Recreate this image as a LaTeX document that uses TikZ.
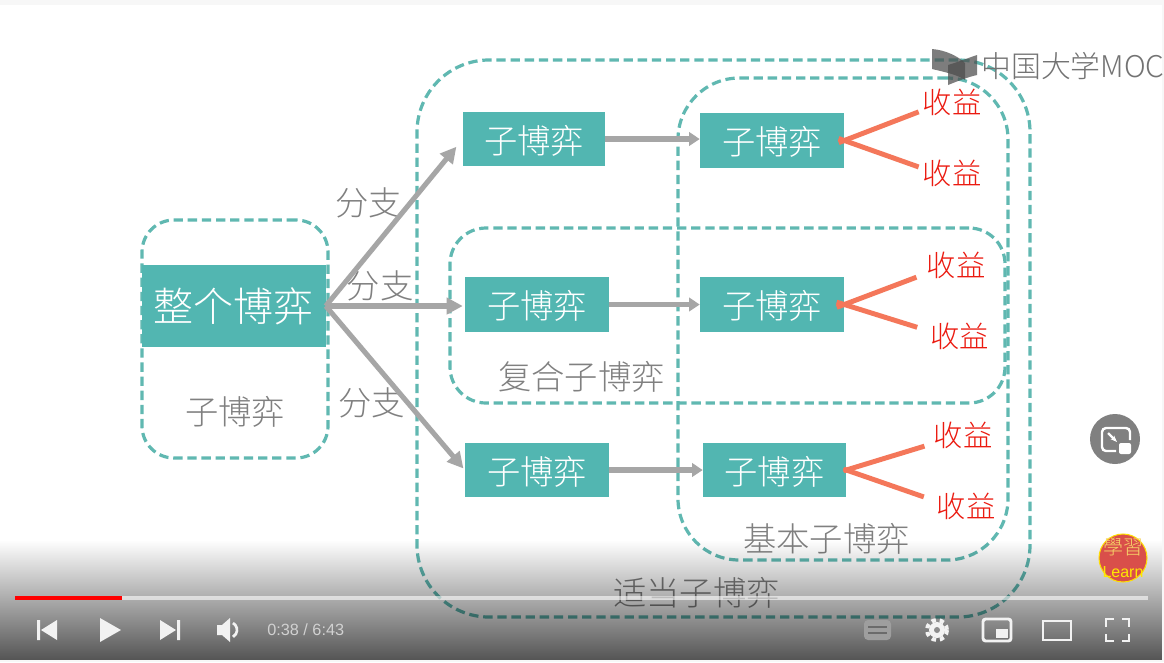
\documentclass[tikz,border=0pt]{standalone}
\usepackage{fontspec}
\setmainfont{Noto Sans CJK SC}[UprightFont=* Light]
\newfontfamily\tcfont{Noto Sans CJK TC}[UprightFont=* Light]
\newfontfamily\uifont{Liberation Sans}
\usetikzlibrary{arrows.meta,fadings,calc}
\tikzfading[name=ytfade,top color=transparent!100,middle color=transparent!78,bottom color=transparent!33]
\definecolor{tealbox}{HTML}{52B6B1}
\definecolor{tealdash}{HTML}{60B8B1}
\definecolor{greytxt}{HTML}{808080}
\definecolor{greyarrow}{HTML}{A6A6A6}
\definecolor{orangeline}{HTML}{F4775A}
\definecolor{redtxt}{HTML}{EB1A10}
\definecolor{uiwhite}{HTML}{F2F2F2}
\definecolor{badgered}{HTML}{D94F4A}
\definecolor{badgegold}{HTML}{F6D468}
\tikzset{
  gamebox/.style={fill=tealbox,text=white,inner sep=0pt,font=\fontsize{25}{25}\selectfont,text height=24pt,text depth=3pt,minimum height=41pt},
  region/.style={draw=tealdash,line width=2.4pt,dash pattern=on 7pt off 3.6pt,inner sep=0pt},
  greylabel/.style={text=greytxt,inner sep=0pt,font=\fontsize{25}{25}\selectfont},
  payoff/.style={text=redtxt,inner sep=0pt,font=\fontsize{22}{22}\selectfont},
  branch/.style={draw=greyarrow,line width=3.8pt,-{Triangle[width=12pt,length=12pt]},shorten >=1.5pt},
  flow/.style={draw=greyarrow,line width=4pt,-{Triangle[width=10pt,length=8pt]}},
  tie/.style={draw=orangeline,line width=3.7pt,shorten <=-4.5pt,shorten >=3pt},
  uiicon/.style={fill=uiwhite,draw=none},
  uiline/.style={draw=uiwhite,line width=2.2pt},
}
\begin{document}
\begin{tikzpicture}[x=0.75pt,y=-0.75pt]
\useasboundingbox (0,0) rectangle (1164,662);
\fill[white] (0,0) rectangle (1164,662);
\fill[black!3] (0,0) rectangle (1164,5);
\fill[black!3] (1162,0) rectangle (1164,662);
% regions
\node[region,minimum width=139.5pt,minimum height=178.5pt,rounded corners=24pt] (rsub) at (235,339) {};
\node[region,minimum width=459.75pt,minimum height=417.75pt,rounded corners=54pt] (rproper) at (723.5,338.5) {};
\node[region,minimum width=247.5pt,minimum height=361.5pt,rounded corners=46pt] (rbasic) at (843,319) {};
\node[region,minimum width=416.25pt,minimum height=131.25pt,rounded corners=27pt] (rcomp) at (727.5,315.5) {};
% boxes
\node[gamebox,minimum width=138pt,minimum height=61.5pt,font=\fontsize{30}{30}\selectfont,text height=27pt,text depth=3.6pt] (whole) at (233.5,306) {整个博弈};
\node[gamebox,minimum width=106.5pt] (b11) at (534,139) {子博弈};
\node[gamebox,minimum width=108pt] (b12) at (772,140.5) {子博弈};
\node[gamebox,minimum width=108pt] (b21) at (537,304.5) {子博弈};
\node[gamebox,minimum width=108pt] (b22) at (772,304.5) {子博弈};
\node[gamebox,minimum width=108pt] (b31) at (537,470) {子博弈};
\node[gamebox,minimum width=107.25pt] (b32) at (774.5,470) {子博弈};
% labels
\node[greylabel] (lsub) at (235,412) {子博弈};
\node[greylabel] (lcomp) at (581.5,376.5) {复合子博弈};
\node[greylabel] (lbasic) at (826.5,539) {基本子博弈};
\node[greylabel] (lproper) at (696.5,593) {适当子博弈};
\node[greylabel] (lb1) at (368.5,203) {分支};
\node[greylabel] (lb2) at (380,286) {分支};
\node[greylabel] (lb3) at (371.5,403) {分支};
% payoffs
\node[payoff] (p11) at (952,102.5) {收益};
\node[payoff] (p12) at (952,173.5) {收益};
\node[payoff] (p21) at (956,265.5) {收益};
\node[payoff] (p22) at (959.5,336.5) {收益};
\node[payoff] (p31) at (963,435.5) {收益};
\node[payoff] (p32) at (966,506.5) {收益};
% connectors
\draw[branch,shorten >=7.5pt] (whole.east) -- (b11.west);
\draw[branch] (whole.east) -- (whole.east -| b21.west);
\draw[branch] (whole.east) -- (b31.west);
\draw[flow] (b11.east) -- (b11.east -| b12.west);
\draw[flow] (b21.east) -- (b22.west);
\draw[flow] (b31.east) -- (b32.west);
\draw[tie] (b12.east) -- (p11.195);
\draw[tie] (b12.east) -- (p12.170);
\draw[tie,shorten >=8pt,shorten <=-6pt] (b22.east) -- (p21.195);
\draw[tie,shorten >=10pt,shorten <=-6pt] (b22.east) -- (p22.170);
\draw[tie,shorten >=7pt,shorten <=-2pt] (b32.east) -- (p31.195);
\draw[tie,shorten >=10pt,shorten <=-2pt] (b32.east) -- (p32.170);
% logo
\fill[black!70,opacity=.72] (932,49) .. controls (945,50) and (958,56) .. (965,63) -- (965,80) .. controls (958,75) and (945,72) .. (932,69) -- cycle;
\fill[black!70,opacity=.72] (948,65) .. controls (958,62) and (968,58) .. (977,55) -- (977,75) .. controls (968,77) and (958,81) .. (948,85) -- cycle;
\node[inner sep=0pt,anchor=west,text=black!55,font=\fontsize{22.4}{22.4}\selectfont] (logo) at (981,66) {中国大学MOC};
% player gradient
\fill[black,path fading=ytfade] (0,540) rectangle (1164,660);
\fill[black!3] (0,660) rectangle (1164,662);
% progress
\fill[white,opacity=.6] (15,596) rectangle (1148,600);
\fill[red] (15,596) rectangle (122,600);
% left controls
\fill[uiicon] (37,620) rectangle (40,640) (57,620) -- (57,640) -- (41,630) -- cycle;
\fill[uiicon] (100,618) -- (121,630) -- (100,642) -- cycle;
\fill[uiicon] (160,620) -- (176,630) -- (160,640) -- cycle (177,620) rectangle (180,640);
\fill[uiicon] (217,625) -- (222,625) -- (230,618) -- (230,642) -- (222,635) -- (217,635) -- cycle;
\draw[uiwhite,line width=2pt] (233,623) arc (-60:60:8);
\node[inner sep=0pt,anchor=west,text=white!82!black,font=\uifont\fontsize{12.2}{12}\selectfont] (time) at (267,629.5) {0:38 / 6:43};
% right controls
\fill[black!38,rounded corners=3pt] (864,620) rectangle (891,640);
\draw[black!58,line width=1.5pt] (868,627) -- (887,627) (868,633) -- (887,633);
\fill[uiwhite] (937,630) circle (8);
\draw[uiwhite,line width=3pt,dash pattern=on 3.3pt off 2.9pt] (937,630) circle (10);
\fill[black!45] (937,630) circle (3);
\draw[uiline,rounded corners=2pt] (983,619) rectangle (1011,641);
\fill[uiicon] (996,629) rectangle (1008,638);
\draw[uiline] (1043,621) rectangle (1071,640);
\draw[uiline] (1106,627) -- (1106,619) -- (1114,619) (1122,619) -- (1129,619) -- (1129,627) (1129,634) -- (1129,641) -- (1122,641) (1114,641) -- (1106,641) -- (1106,634);
% floating button
\fill[black!50] (1115,439) circle (25);
\draw[white,line width=1.8pt,rounded corners=3pt] (1130,440) -- (1130,428) -- (1102,428) -- (1102,451) -- (1116,451);
\draw[white,line width=1.6pt,-{Stealth[length=5pt]}] (1108,433) -- (1117,442);
\fill[white,rounded corners=1.5pt] (1119,443) rectangle (1131,454);
% learn badge
\fill[badgered,draw=yellow!80!orange,line width=.8pt] (1123,558) circle (24);
\node[inner sep=0pt,text=badgegold,font=\tcfont\fontsize{15}{15}\selectfont] (badge) at (1123,547) {學習};
\node[inner sep=0pt,text=yellow!90!orange,font=\uifont\fontsize{12}{12}\selectfont] (learn) at (1123,572) {Learn};
\end{tikzpicture}
\end{document}
